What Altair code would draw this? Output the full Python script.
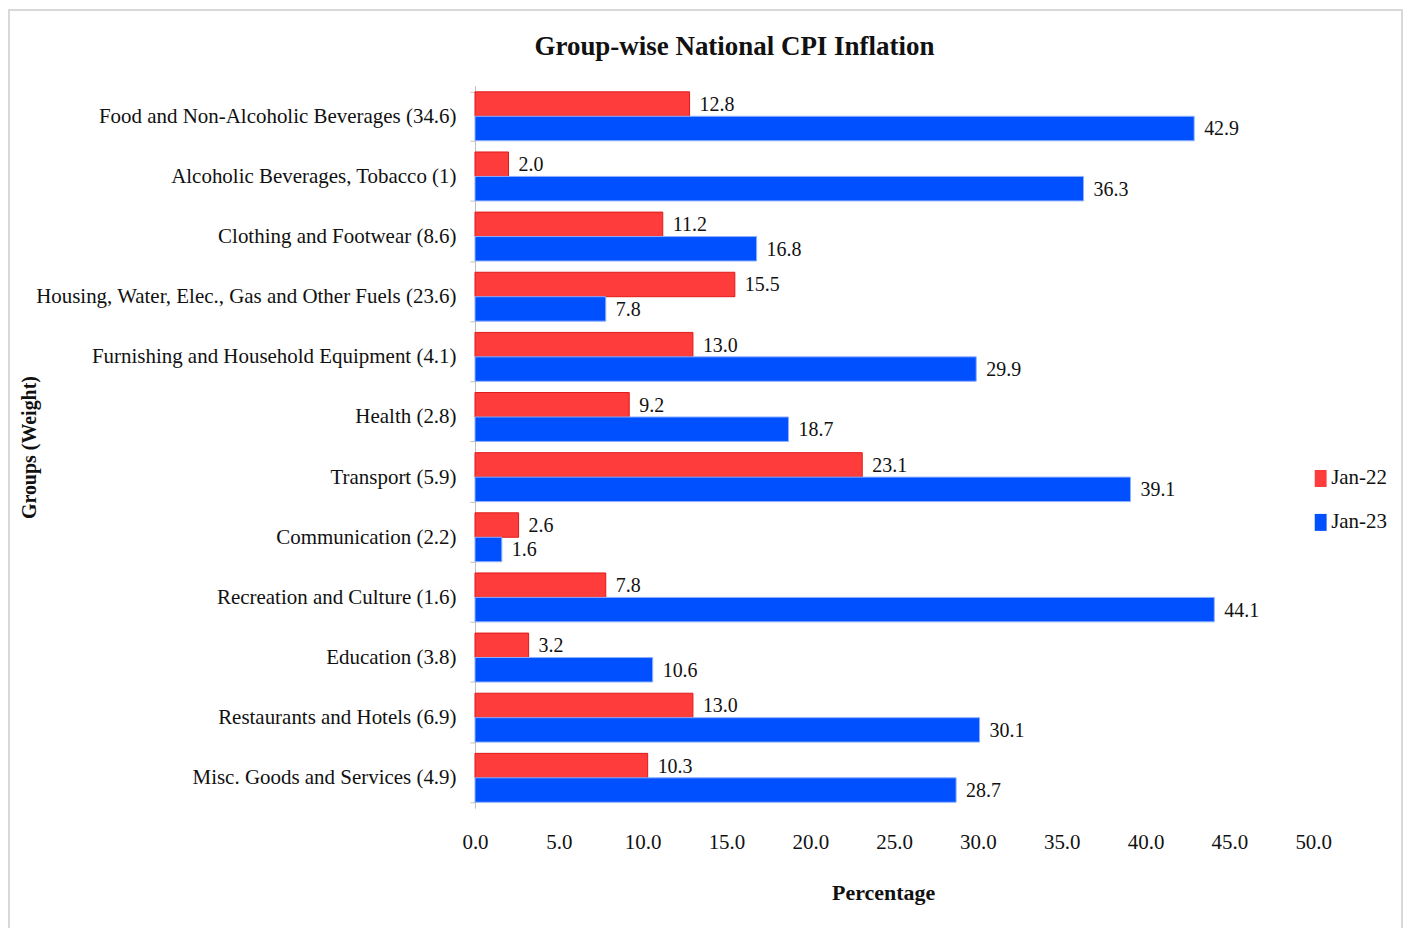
import altair as alt
import pandas as pd

groups = [
    "Food and Non-Alcoholic Beverages (34.6)",
    "Alcoholic Beverages, Tobacco (1)",
    "Clothing and Footwear (8.6)",
    "Housing, Water, Elec., Gas and Other Fuels (23.6)",
    "Furnishing and Household Equipment (4.1)",
    "Health (2.8)",
    "Transport (5.9)",
    "Communication (2.2)",
    "Recreation and Culture (1.6)",
    "Education (3.8)",
    "Restaurants and Hotels (6.9)",
    "Misc. Goods and Services (4.9)",
]
jan22 = [12.8, 2.0, 11.2, 15.5, 13.0, 9.2, 23.1, 2.6, 7.8, 3.2, 13.0, 10.3]
jan23 = [42.9, 36.3, 16.8, 7.8, 29.9, 18.7, 39.1, 1.6, 44.1, 10.6, 30.1, 28.7]
series = ["Jan-22", "Jan-23"]
x_ticks = [0, 5, 10, 15, 20, 25, 30, 35, 40, 45, 50]
title_text = "Group-wise National CPI Inflation"

rows = []
for g, a, b in zip(groups, jan22, jan23):
    rows.append({"group": g, "series": series[0], "value": a})
    rows.append({"group": g, "series": series[1], "value": b})
df = pd.DataFrame(rows)

FONT = "Liberation Serif"
W, H = 840, 724

y_enc = alt.Y(
    "group:N",
    sort=groups,
    scale=alt.Scale(paddingInner=0.187, paddingOuter=0.1),
    axis=alt.Axis(
        title="Groups (Weight)",
        titleFont=FONT,
        titleFontSize=20,
        titleFontWeight="bold",
        titleColor="#111111",
        titleX=-446,
        titleY=H / 2,
        titleAngle=270,
        titleAlign="center",
        titleBaseline="middle",
        labelFont=FONT,
        labelFontSize=21,
        labelColor="#111111",
        labelPadding=14,
        labelLimit=600,
        domainColor="#bfbfbf",
        tickColor="#bfbfbf",
        tickSize=5,
        tickBand="extent",
        grid=False,
    ),
)
yoff = alt.YOffset("series:N", sort=series)

bars = alt.Chart(df).mark_bar(strokeWidth=1).encode(
    x=alt.X(
        "value:Q",
        scale=alt.Scale(domain=[0, 50], nice=False),
        axis=alt.Axis(
            values=x_ticks,
            format=".1f",
            title="Percentage",
            titleFont=FONT,
            titleFontSize=22,
            titleFontWeight="bold",
            titleColor="#111111",
            titleX=409,
            titleY=84,
            titleBaseline="middle",
            labelFont=FONT,
            labelFontSize=21,
            labelColor="#111111",
            labelPadding=23,
            labelFlush=False,
            domain=False,
            ticks=False,
            grid=False,
        ),
    ),
    y=y_enc,
    yOffset=yoff,
    color=alt.Color(
        "series:N",
        sort=series,
        scale=alt.Scale(domain=series, range=["#ff3c3c", "#0050ff"]),
        legend=alt.Legend(
            title=None,
            orient="none",
            legendX=837,
            legendY=383,
            labelFont=FONT,
            labelFontSize=21,
            labelColor="#111111",
            symbolType="M-0.7,-1H0.7V1H-0.7Z",
            symbolSize=289,
            symbolStrokeWidth=0,
            labelOffset=0,
            rowPadding=22,
        ),
    ),
    stroke=alt.Stroke(
        "series:N",
        sort=series,
        scale=alt.Scale(domain=series, range=["#e01818", "#8fb0ff"]),
        legend=None,
    ),
)

labels = alt.Chart(df).mark_text(
    align="left", baseline="middle", dx=10, dy=1, font=FONT, fontSize=20, color="#111111"
).encode(
    x="value:Q",
    y=alt.Y("group:N", sort=groups),
    yOffset=yoff,
    text=alt.Text("value:Q", format=".1f"),
)

frame = alt.Chart(pd.DataFrame({"k": [0]})).mark_rect(
    filled=False, stroke="#d9d9d9", strokeWidth=2
).encode(
    x=alt.value(-467),
    x2=alt.value(929),
    y=alt.value(-76),
    y2=alt.value(H + 126),
)

title = alt.Chart(pd.DataFrame({"t": [title_text]})).mark_text(
    font=FONT, fontSize=27, fontWeight="bold", color="#111111",
    align="center", baseline="middle",
).encode(
    x=alt.value(260),
    y=alt.value(-39),
    text="t:N",
)

chart = alt.layer(frame, title, bars, labels).properties(
    width=W,
    height=H,
    padding=0,
    background="white",
).configure_view(strokeWidth=0, stroke="transparent")

chart.save("out.html", embed_options={"renderer": "svg", "actions": False})
